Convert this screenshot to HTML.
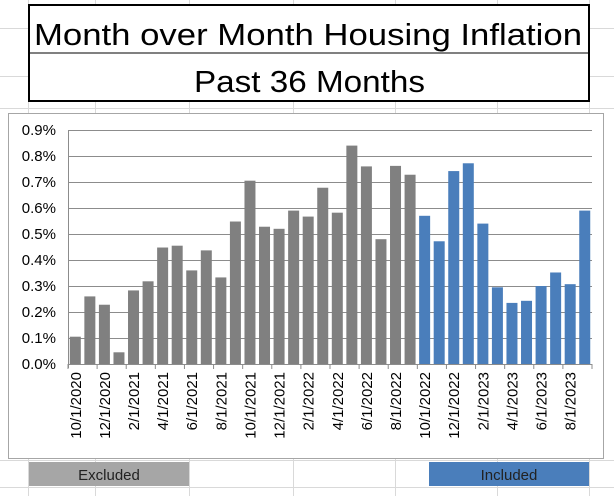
<!DOCTYPE html>
<html><head><meta charset="utf-8"><style>
html,body{margin:0;padding:0;background:#fff;}
body{width:614px;height:496px;overflow:hidden;font-family:"Liberation Sans",sans-serif;}
</style></head><body>
<svg width="614" height="496" xmlns="http://www.w3.org/2000/svg" font-family="Liberation Sans, sans-serif">
<g stroke="#d9d9d9" stroke-width="1">
<line x1="0" y1="28.5" x2="614" y2="28.5"/><line x1="0" y1="76.5" x2="614" y2="76.5"/>
<line x1="0" y1="108.5" x2="614" y2="108.5"/><line x1="0" y1="460.5" x2="614" y2="460.5"/>
<line x1="0" y1="487.5" x2="614" y2="487.5"/>
<line x1="28.5" y1="0" x2="28.5" y2="496"/><line x1="95.5" y1="0" x2="95.5" y2="496"/>
<line x1="189.5" y1="0" x2="189.5" y2="496"/><line x1="293.5" y1="0" x2="293.5" y2="496"/>
<line x1="395.5" y1="0" x2="395.5" y2="496"/><line x1="497.5" y1="0" x2="497.5" y2="496"/>
<line x1="589.5" y1="0" x2="589.5" y2="496"/>
</g>
<rect x="29" y="5" width="560" height="96" fill="#fff" stroke="#000" stroke-width="2"/>
<line x1="29" y1="53" x2="589" y2="53" stroke="#000" stroke-width="1"/>
<text x="34" y="45" font-size="31" textLength="548" lengthAdjust="spacingAndGlyphs">Month over Month Housing Inflation</text>
<text x="194" y="92" font-size="31" textLength="231" lengthAdjust="spacingAndGlyphs">Past 36 Months</text>
<rect x="8.5" y="113.5" width="595" height="345" fill="#fff" stroke="#a6a6a6"/>
<g id="grid" stroke="#8c8c8c" stroke-width="1"></g>
<g id="ylab" font-size="15" fill="#000" text-anchor="end"></g>
<g id="bars"></g>
<g id="xlab" font-size="15" fill="#000"></g>
<rect x="29" y="462" width="160" height="24" fill="#a6a6a6"/>
<text x="109" y="480" font-size="15" text-anchor="middle" fill="#222">Excluded</text>
<rect x="429" y="462" width="160" height="24" fill="#4a7ebb"/>
<text x="509" y="480" font-size="15" text-anchor="middle" fill="#222">Included</text>
</svg>
<script>
var ns="http://www.w3.org/2000/svg";
function el(t,a,p,txt){var e=document.createElementNS(ns,t);for(var k in a)e.setAttribute(k,a[k]);if(txt)e.textContent=txt;document.getElementById(p).appendChild(e);}
var x0=68,x1=592,y0=364,ppu=26;
for(var i=0;i<=9;i++){var y=y0-i*ppu;el("line",{x1:x0,x2:x1,y1:y+0.5,y2:y+0.5},"grid");el("text",{x:56,y:y+5},"ylab",(i/10).toFixed(1)+"%");}
el("line",{x1:x0+0.5,x2:x0+0.5,y1:130,y2:368},"grid");
var v=[0.105,0.26,0.228,0.045,0.283,0.318,0.448,0.455,0.36,0.437,0.333,0.548,0.705,0.528,0.52,0.59,0.567,0.678,0.582,0.84,0.76,0.48,0.762,0.728,0.57,0.472,0.742,0.772,0.54,0.295,0.235,0.243,0.3,0.352,0.307,0.59];
var s=(x1-x0)/36;
var labs=["10/1/2020","12/1/2020","2/1/2021","4/1/2021","6/1/2021","8/1/2021","10/1/2021","12/1/2021","2/1/2022","4/1/2022","6/1/2022","8/1/2022","10/1/2022","12/1/2022","2/1/2023","4/1/2023","6/1/2023","8/1/2023"];
for(var i=0;i<36;i++){var h=v[i]*10*ppu;var bx=x0+i*s+1.8;
el("rect",{x:bx,y:y0-h,width:11,height:h,fill:i<24?"#808080":"#4a7ebb"},"bars");}
for(var i=0;i<=18;i++){var tx=x0+i*2*s;el("line",{x1:tx,x2:tx,y1:y0,y2:y0+5},"grid");}
for(var j=0;j<18;j++){var cx=x0+(2*j+0.5)*s+5.5;
el("text",{x:0,y:0,"text-anchor":"end",transform:"translate("+cx+",372) rotate(-90)"},"xlab",labs[j]);}
</script>
</body></html>
